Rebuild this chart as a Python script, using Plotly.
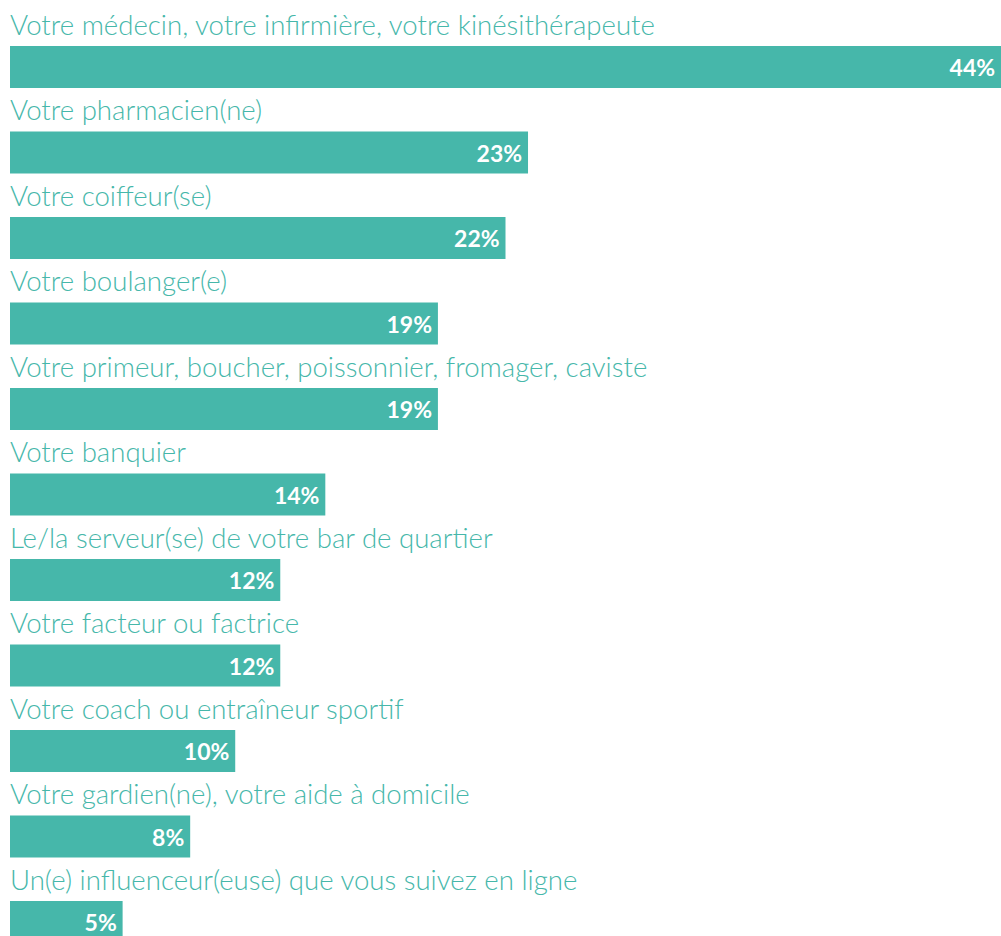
import plotly.graph_objects as go

categories = [
    "Votre médecin, votre infirmière, votre kinésithérapeute",
    "Votre pharmacien(ne)",
    "Votre coiffeur(se)",
    "Votre boulanger(e)",
    "Votre primeur, boucher, poissonnier, fromager, caviste",
    "Votre banquier",
    "Le/la serveur(se) de votre bar de quartier",
    "Votre facteur ou factrice",
    "Votre coach ou entraîneur sportif",
    "Votre gardien(ne), votre aide à domicile",
    "Un(e) influenceur(euse) que vous suivez en ligne",
]
values = [44, 23, 22, 19, 19, 14, 12, 12, 10, 8, 5]

TEAL = "#46b7aa"
FONT = "Lato"

pos = list(range(len(categories)))

fig = go.Figure()
fig.add_trace(go.Bar(
    x=values, y=pos, orientation="h",
    width=0.491,
    marker=dict(color=TEAL, line=dict(width=0)),
    text=[f"{v}%\u2009" for v in values],
    textposition="inside",
    insidetextanchor="end",
    textfont=dict(family=FONT, size=23, color="white", weight="bold"),
    cliponaxis=False,
    hoverinfo="skip",
))

for i, c in enumerate(categories):
    fig.add_annotation(
        x=0, y=i - 0.5, xref="x", yref="y",
        text=c, showarrow=False, xanchor="left", yanchor="middle",
        font=dict(family=FONT, size=27.6, color=TEAL, weight=300),
        xshift=-2,
    )

fig.update_layout(
    width=1001, height=936,
    margin=dict(l=10, r=0, t=0, b=0),
    paper_bgcolor="white", plot_bgcolor="white",
    showlegend=False,
    xaxis=dict(range=[0, 44], visible=False, fixedrange=True),
    yaxis=dict(range=[(936 - 67) / 85.5, -67 / 85.5], visible=False, fixedrange=True),
    uniformtext=dict(mode=False),
)

fig.write_html(
    "out.html",
    config={"displayModeBar": False},
    post_script="document.body.style.margin='0';document.body.style.overflow='hidden';",
)
